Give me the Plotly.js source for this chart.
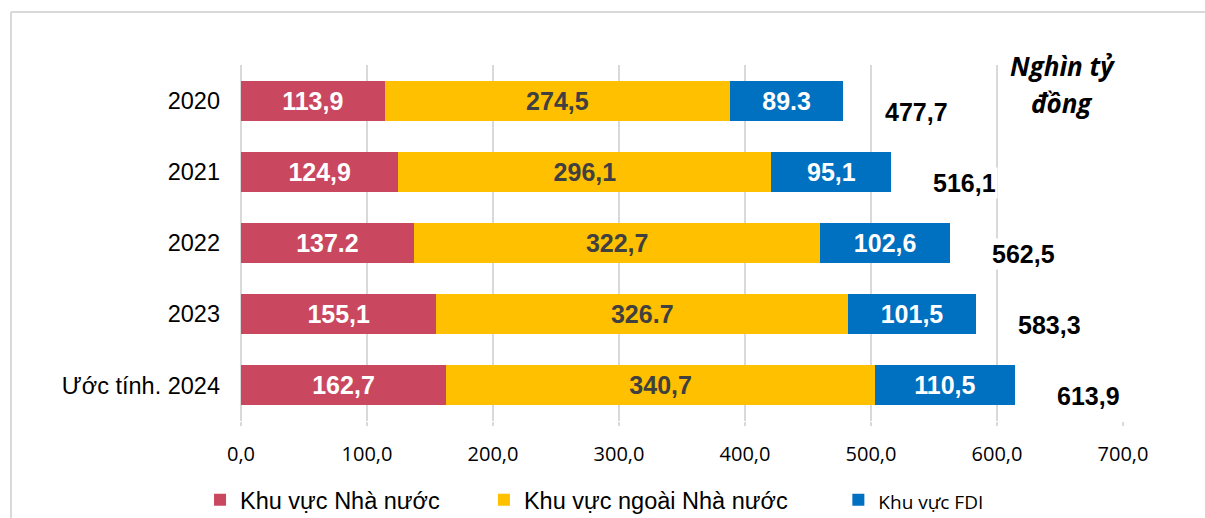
<!DOCTYPE html>
<html>
<head>
<meta charset="utf-8">
<script src="https://cdn.plot.ly/plotly-3.0.1.min.js"></script>
<style>
  html, body { margin: 0; padding: 0; background: #ffffff; }
  #chart { width: 1205px; height: 518px; }
</style>
</head>
<body>
<div id="chart"></div>
<script>
// ---- Data ----
const categories = ["2020", "2021", "2022", "2023", "Ước tính. 2024"];
const stateValues = [113.9, 124.9, 137.2, 155.1, 162.7];
const stateLabels = ["113,9", "124,9", "137.2", "155,1", "162,7"];
const nonStateValues = [274.5, 296.1, 322.7, 326.7, 340.7];
const nonStateLabels = ["274,5", "296,1", "322,7", "326.7", "340,7"];
const fdiValues = [89.3, 95.1, 102.6, 101.5, 110.5];
const fdiLabels = ["89.3", "95,1", "102,6", "101,5", "110,5"];
const totalValues = [477.7, 516.1, 562.5, 583.3, 613.9];
const totalLabels = ["477,7", "516,1", "562,5", "583,3", "613,9"];
const seriesNames = ["Khu vực Nhà nước", "Khu vực ngoài Nhà nước", "Khu vực FDI"];
const unitLabelTop = "Nghìn tỷ";
const unitLabelBottom = "đồng";
const xTickValues = [0, 100, 200, 300, 400, 500, 600, 700];

// ---- Styles ----
const ARIAL = "Liberation Sans, Arial, sans-serif";
const OPEN = "Open Sans, Noto Sans, sans-serif";
const colors = ["#C9485F", "#FFC000", "#0070C0"];
const textColors = ["#FFFFFF", "#404040", "#FFFFFF"];
const pad1 = "\u00a0".repeat(6);
const pad2 = "\u00a0".repeat(7);

function barTrace(i, vals, labels, name) {
  return {
    type: "bar",
    orientation: "h",
    name: name,
    y: categories,
    x: vals,
    text: labels,
    textposition: "inside",
    insidetextanchor: "middle",
    textangle: 0,
    constraintext: "none",
    textfont: { family: ARIAL, size: 25, weight: 700, color: textColors[i] },
    marker: { color: colors[i], line: { width: 0 } },
    hoverinfo: "skip"
  };
}

const data = [
  barTrace(0, stateValues, stateLabels, seriesNames[0] + pad1),
  barTrace(1, nonStateValues, nonStateLabels, seriesNames[1] + pad2),
  barTrace(2, fdiValues, fdiLabels, '<span style="font-family:Open Sans;font-size:19px">' + seriesNames[2] + '</span>')
];

// annotations on a category axis use the category's serial number
const annotations = categories.map((c, i) => ({
  x: totalValues[i], y: i, xref: "x", yref: "y",
  text: totalLabels[i],
  showarrow: false,
  xanchor: "left", yanchor: "middle",
  xshift: 40, yshift: -11,
  bgcolor: "#FFFFFF",
  font: { family: ARIAL, size: 25, weight: 700, color: "#000000" }
}));

annotations.push({
  x: 0.931, y: 0.997, xref: "paper", yref: "paper",
  text: "<b><i>" + unitLabelTop + "</i></b>",
  showarrow: false, xanchor: "center", yanchor: "middle",
  bgcolor: "#FFFFFF", borderpad: 5,
  font: { family: OPEN, size: 26, color: "#000000" }
});
annotations.push({
  x: 0.931, y: 0.893, xref: "paper", yref: "paper",
  text: "<b><i>" + unitLabelBottom + "</i></b>",
  showarrow: false, xanchor: "center", yanchor: "middle",
  font: { family: OPEN, size: 26, color: "#000000" }
});

const layout = {
  width: 1205, height: 518,
  margin: { l: 241, r: 82, t: 65, b: 97, pad: 0 },
  paper_bgcolor: "#FFFFFF", plot_bgcolor: "#FFFFFF",
  barmode: "stack",
  bargap: 0.437,
  separators: ",.",
  showlegend: true,
  hovermode: false,
  legend: {
    orientation: "h",
    xref: "container", x: 0.166, xanchor: "left",
    yref: "container", y: 0.035, yanchor: "middle",
    traceorder: "normal",
    font: { family: ARIAL, size: 23.5, color: "#000000" },
    bgcolor: "rgba(0,0,0,0)"
  },
  xaxis: {
    range: [0, 700],
    tickvals: xTickValues,
    tickformat: ".1f",
    showgrid: true, gridcolor: "#D9D9D9", gridwidth: 2,
    zeroline: true, zerolinecolor: "#D9D9D9", zerolinewidth: 2,
    showline: false,
    ticks: "outside", ticklen: 4, tickwidth: 2, tickcolor: "#D9D9D9",
    ticklabelstandoff: 11,
    tickfont: { family: OPEN, size: 20, color: "#000000" },
    fixedrange: true
  },
  yaxis: {
    type: "category",
    categoryorder: "array",
    categoryarray: categories,
    range: [categories.length - 0.5, -0.5],
    showgrid: false, zeroline: false, showline: false,
    ticks: "",
    ticklabelstandoff: 20,
    tickfont: { family: ARIAL, size: 23.5, color: "#000000" },
    fixedrange: true
  },
  annotations: annotations,
  shapes: [
    { type: "line", xref: "paper", yref: "paper",
      x0: (11 - 241) / 882, x1: (11 - 241) / 882, y0: -0.3, y1: (421 - 12) / 356,
      line: { color: "#D9D9D9", width: 2 } },
    { type: "line", xref: "paper", yref: "paper",
      x0: (11 - 241) / 882, x1: 1.2, y0: (421 - 12) / 356, y1: (421 - 12) / 356,
      line: { color: "#D9D9D9", width: 2 } }
  ]
};

Plotly.newPlot("chart", data, layout, { displayModeBar: false, staticPlot: true });
</script>
</body>
</html>
